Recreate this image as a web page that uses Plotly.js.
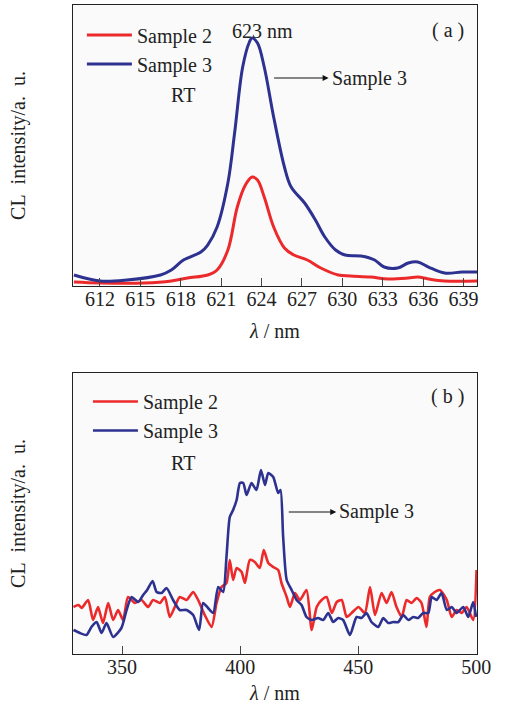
<!DOCTYPE html>
<html><head><meta charset="utf-8">
<script src="https://cdn.plot.ly/plotly-3.0.1.min.js"></script>
<style>html,body{margin:0;padding:0;background:#fff}</style>
</head><body><div id="chart" style="width:508px;height:711px"></div>
<script>
// Panel (a): CL spectra 610-640 nm
const wlA2 = [610.07,612,615.3,617.3,618.5,620,620.7,621.5,622.2,622.8,623.3,623.7,624.2,624.9,625.7,626.4,627.4,628.4,629.7,630.6,632.1,633.4,634.9,635.6,636.4,637.6,640];
const s2A  = [4,3,3,5,8,11,16,36,79,101,109,106,89,59,38,31,26,18,11,10,9,7,8,9,7,5,5];
const wlA3 = [610.07,612,614,616.5,617.3,618.2,619.5,620,620.7,621.5,622,622.6,623.1,623.3,623.7,624.2,624.9,625.7,626.2,627.2,628,628.7,629.5,630.2,631.4,632.4,633.1,634.1,634.9,635.6,636.4,637.6,638.9,640];
const s3A  = [11,5,6,11,16,26,34,41,59,103,153,219,244,248,243,219,169,119,99,83,66,49,36,31,30,26,19,18,23,24,19,13,14,14];
const ticksA = [612,615,618,621,624,627,630,633,636,639];

// Panel (b): CL spectra 330-500 nm
const wlB2 = [329.4,331.5,332.9,335.6,337.7,339.8,341.9,344.1,346.2,348.3,350.4,352.5,355.4,358.2,361,363.1,366,368.1,370.2,372.3,374.4,377.3,380.1,382.2,385,387.9,390,392.1,394.2,395.6,397,398.5,400.6,402,404.1,406.2,408.3,410,411.9,414,416.1,417.5,419.7,421.1,423.2,425.3,428.1,430.3,432.4,434.5,436.6,438.8,440.9,443,445.1,447.2,450.1,452.8,455,457.1,459.9,462,464.1,466.2,468.4,470.5,472.6,474.7,476.8,478.9,480.3,482.4,484.6,487.5,489.6,491.7,493.8,495.9,498.7,500.1];
const s2B  = [47,49,46,54,34,47,31,51,34,44,34,57,51,54,47,54,51,57,37,47,57,54,62,54,39,27,51,67,71,94,74,86,82,71,94,92,86,104,91,87,84,71,57,47,61,54,64,24,47,54,57,41,52,54,37,41,47,41,67,39,61,51,62,47,37,54,51,56,51,27,57,62,64,54,37,44,41,47,34,84];
const wlB3 = [329.4,332.1,334.9,337,339.2,341.3,343.4,346.2,349.7,351.9,354,356.8,358.9,360.6,362.9,364.6,366.7,368.8,371.6,374.4,377.3,380.1,382.6,384.3,386.4,388.6,390.7,392.8,394.2,395.6,397,398.5,399.9,401.3,402.7,404.8,406.9,408.8,410.5,411.9,414,416.1,417.1,418.2,419.7,421.8,423.9,426,428.1,430.3,433,435.2,437.3,439.4,441.5,443.6,446.5,449.3,451.4,453.5,455.6,458.5,460.6,462.7,464.8,467,469.1,471.2,473.3,475.4,477.5,479.7,481.1,483.2,485.3,487.5,489.6,491.7,494.5,496.6,498.7,499.9];
const s3B  = [24,21,19,27,32,21,31,17,26,44,57,52,59,64,73,62,61,66,54,44,44,39,24,51,46,41,67,62,97,137,144,154,171,171,159,171,164,184,169,181,177,161,164,117,74,64,54,49,37,34,36,34,41,32,36,34,19,37,36,41,32,27,36,31,32,32,39,34,37,36,41,41,57,54,61,44,47,41,47,37,52,37];
const ticksB = [350,400,450,500];

const RED = '#ec2a2b', BLUE = '#2d3190';
const FONT = 'Liberation Serif';
const TXT = {family: FONT, size: 20, color: '#222'};
const YTITLE = 'CL\u00a0\u00a0intensity/a.\u00a0\u00a0u.';

const traces = [
  {x: wlA2, y: s2A, name: 'Sample 2', type: 'scatter', mode: 'lines', line: {color: RED, width: 3, shape: 'spline', smoothing: 1}, xaxis: 'x', yaxis: 'y', legend: 'legend', legendgroup: 'a2'},
  {x: wlA3, y: s3A, name: 'Sample 3', type: 'scatter', mode: 'lines', line: {color: BLUE, width: 3, shape: 'spline', smoothing: 1}, xaxis: 'x', yaxis: 'y', legend: 'legend', legendgroup: 'a3'},
  {x: wlB2, y: s2B, name: 'Sample 2', type: 'scatter', mode: 'lines', line: {color: RED, width: 2.6, shape: 'spline', smoothing: 0.6}, xaxis: 'x2', yaxis: 'y2', legend: 'legend2', legendgroup: 'b2'},
  {x: wlB3, y: s3B, name: 'Sample 3', type: 'scatter', mode: 'lines', line: {color: BLUE, width: 2.6, shape: 'spline', smoothing: 0.6}, xaxis: 'x2', yaxis: 'y2', legend: 'legend2', legendgroup: 'b3'}
];

const axisCommon = {
  showline: true, linecolor: '#222', linewidth: 1.3, mirror: true,
  ticks: 'inside', ticklen: 8, tickwidth: 1, tickcolor: '#444',
  showgrid: false, zeroline: false,
  tickfont: TXT
};
const yCommon = {
  showline: true, linecolor: '#222', linewidth: 1.3, mirror: true,
  ticks: '', showticklabels: false, showgrid: false, zeroline: false,
  range: [0, 281], fixedrange: true
};

const layout = {
  width: 508, height: 711,
  margin: {l: 73, r: 31, t: 5, b: 57},
  paper_bgcolor: '#ffffff', plot_bgcolor: '#fafafa',
  font: TXT,
  showlegend: true,
  xaxis: Object.assign({}, axisCommon, {range: [610, 640], tickvals: ticksA, anchor: 'y', ticklabelstandoff: -5,
    title: {text: '<i>λ</i> / nm', font: TXT, standoff: 14}}),
  yaxis: Object.assign({}, yCommon, {domain: [0.567, 1], anchor: 'x',
    title: {text: YTITLE, font: TXT, standoff: 40}}),
  xaxis2: Object.assign({}, axisCommon, {range: [329.2, 500.3], tickvals: ticksB, anchor: 'y2', ticklabelstandoff: -5,
    title: {text: '<i>λ</i> / nm', font: TXT, standoff: 8}}),
  yaxis2: Object.assign({}, yCommon, {domain: [0, 0.433], anchor: 'x2',
    title: {text: YTITLE, font: TXT, standoff: 40}}),
  legend: {x: 0.022, y: 0.984, xanchor: 'left', yanchor: 'top', bgcolor: 'rgba(0,0,0,0)', borderwidth: 0,
    font: TXT, itemwidth: 45, tracegroupgap: 1, traceorder: 'normal'},
  legend2: {x: 0.037, y: 0.419, xanchor: 'left', yanchor: 'top', bgcolor: 'rgba(0,0,0,0)', borderwidth: 0,
    font: TXT, itemwidth: 45, tracegroupgap: 1, traceorder: 'normal'},
  annotations: [
    {xref: 'paper', yref: 'paper', x: 0.272, y: 0.861, xanchor: 'center', yanchor: 'middle', text: 'RT', showarrow: false, font: TXT},
    {xref: 'paper', yref: 'paper', x: 0.272, y: 0.294, xanchor: 'center', yanchor: 'middle', text: 'RT', showarrow: false, font: TXT},
    {xref: 'paper', yref: 'paper', x: 0.468, y: 0.960, xanchor: 'center', yanchor: 'middle', text: '623 nm', showarrow: false, font: TXT},
    {xref: 'paper', yref: 'paper', x: 0.928, y: 0.961, xanchor: 'center', yanchor: 'middle', text: '( a )', showarrow: false, font: TXT},
    {xref: 'paper', yref: 'paper', x: 0.928, y: 0.396, xanchor: 'center', yanchor: 'middle', text: '( b )', showarrow: false, font: TXT},
    {xref: 'x', yref: 'y', x: 628.98, y: 208, ax: -56, ay: 0, text: '', showarrow: true, arrowhead: 2, arrowsize: 1, arrowwidth: 1.2, arrowcolor: '#111'},
    {xref: 'x', yref: 'y', x: 629.1, y: 208, text: 'Sample 3', xanchor: 'left', yanchor: 'middle', showarrow: false, font: TXT},
    {xref: 'x2', yref: 'y2', x: 440.7, y: 142, ax: -49, ay: 0, text: '', showarrow: true, arrowhead: 2, arrowsize: 1, arrowwidth: 1.2, arrowcolor: '#111'},
    {xref: 'x2', yref: 'y2', x: 440.8, y: 142, text: 'Sample 3', xanchor: 'left', yanchor: 'middle', showarrow: false, font: TXT}
  ]
};

Plotly.newPlot('chart', traces, layout, {staticPlot: true, displayModeBar: false});
</script>
</body></html>
